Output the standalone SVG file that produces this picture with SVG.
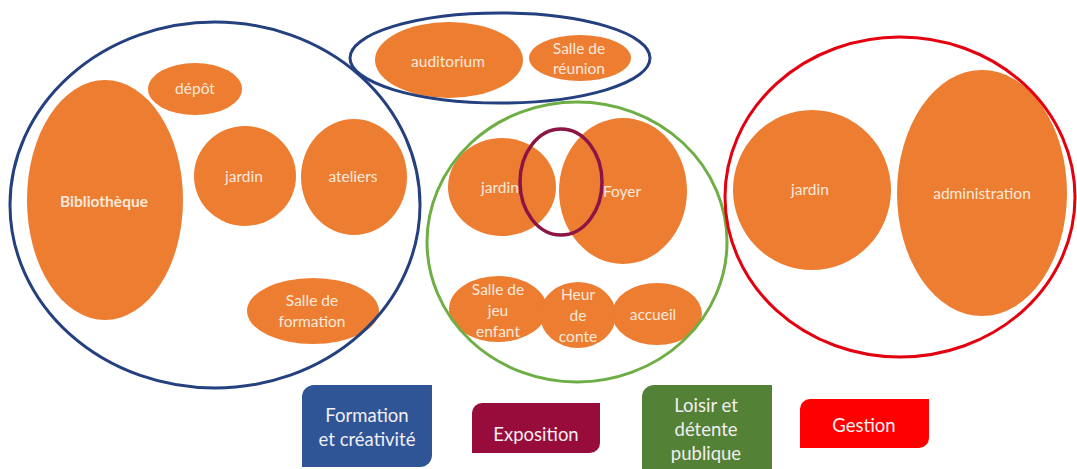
<svg xmlns="http://www.w3.org/2000/svg" width="1077" height="469" viewBox="0 0 1077 469">
<style>
.node{fill:#ed7d31}
.t{font-family:Lato,"Open Sans","Liberation Sans",sans-serif;font-size:15.5px;fill:#fbe9dc;text-anchor:middle;dominant-baseline:central}
.b{font-weight:bold;font-size:15.5px}
.zone{fill:none;stroke-width:3}
.blue{stroke:#24407f}
.green{stroke:#6fae45}
.red{stroke:#e3000f}
.maroon{stroke:#8c1546;stroke-width:3.5}
.lg{font-family:Lato,"Open Sans","Liberation Sans",sans-serif;font-size:18.5px;fill:#f2eef2;text-anchor:middle;dominant-baseline:central}
</style>
<rect width="1077" height="469" fill="#ffffff"/>

<g id="bibliotheque"><ellipse class="node" cx="105" cy="200" rx="78" ry="120"/><text class="t b" x="104" y="201">Bibliothèque</text></g>
<g id="depot"><ellipse class="node" cx="195" cy="89" rx="47" ry="26"/><text class="t" x="195" y="88">dépôt</text></g>
<g id="jardin-formation"><ellipse class="node" cx="245" cy="176" rx="51" ry="50"/><text class="t" x="244" y="176">jardin</text></g>
<g id="ateliers"><ellipse class="node" cx="354" cy="177" rx="53" ry="58"/><text class="t" x="353" y="176">ateliers</text></g>
<g id="salle-formation"><ellipse class="node" cx="313" cy="311" rx="66" ry="33"/><text class="t" x="312" y="300">Salle de</text><text class="t" x="312" y="321">formation</text></g>

<g id="auditorium"><ellipse class="node" cx="449" cy="60" rx="74" ry="38"/><text class="t" x="448" y="61">auditorium</text></g>
<g id="salle-reunion"><ellipse class="node" cx="580" cy="58" rx="51" ry="23"/><text class="t" x="579" y="48">Salle de</text><text class="t" x="579" y="68">réunion</text></g>

<g id="jardin-loisir"><ellipse class="node" cx="502" cy="187" rx="54" ry="49"/></g>
<g id="foyer"><ellipse class="node" cx="623" cy="191" rx="64" ry="73"/><text class="t" x="622" y="191">Foyer</text></g>
<g id="salle-jeu"><ellipse class="node" cx="498" cy="309" rx="49" ry="33"/><text class="t" x="498" y="289">Salle de</text><text class="t" x="498" y="310">jeu</text><text class="t" x="498" y="331">enfant</text></g>
<g id="heur-conte"><ellipse class="node" cx="578" cy="315" rx="38" ry="33"/><text class="t" x="578" y="294">Heur</text><text class="t" x="578" y="315">de</text><text class="t" x="578" y="336">conte</text></g>
<g id="accueil"><ellipse class="node" cx="657" cy="314" rx="45" ry="31"/><text class="t" x="653" y="314">accueil</text></g>
<g id="jardin-loisir-label"><text class="t" x="500" y="187">jardin</text></g>

<g id="jardin-gestion"><ellipse class="node" cx="812" cy="190" rx="79" ry="80"/><text class="t" x="810" y="189">jardin</text></g>
<g id="administration"><ellipse class="node" cx="982" cy="193" rx="85" ry="123"/><text class="t" x="982" y="193">administration</text></g>

<g id="zones">
<ellipse id="zone-formation" class="zone blue" cx="215" cy="205" rx="205" ry="183"/>
<ellipse id="zone-formation-top" class="zone blue" cx="500" cy="58" rx="150" ry="45"/>
<ellipse id="zone-loisir" class="zone green" cx="577" cy="242" rx="150" ry="140"/>
<ellipse id="zone-exposition" class="zone maroon" cx="561" cy="182" rx="41" ry="53"/>
<ellipse id="zone-gestion" class="zone red" cx="900" cy="197" rx="175" ry="160"/>
</g>

<g id="connectors"></g>

<g id="legend-formation"><path d="M314,385 H432 V455 A12,12 0 0 1 420,467 H302 V397 A12,12 0 0 1 314,385 Z" fill="#2f5597"/><text class="lg" x="367" y="415">Formation</text><text class="lg" x="367" y="439">et créativité</text></g>
<g id="legend-exposition"><path d="M482,403 H600 V443 A10,10 0 0 1 590,453 H472 V413 A10,10 0 0 1 482,403 Z" fill="#980c3c"/><text class="lg" x="536" y="434">Exposition</text></g>
<g id="legend-loisir"><path d="M654,385 H772 V469 H642 V397 A12,12 0 0 1 654,385 Z" fill="#538135"/><text class="lg" x="706" y="405">Loisir et</text><text class="lg" x="706" y="429">détente</text><text class="lg" x="706" y="453">publique</text></g>
<g id="legend-gestion"><path d="M810,399 H929 V438 A10,10 0 0 1 919,448 H800 V409 A10,10 0 0 1 810,399 Z" fill="#ff0000"/><text class="lg" x="864" y="425">Gestion</text></g>
</svg>
